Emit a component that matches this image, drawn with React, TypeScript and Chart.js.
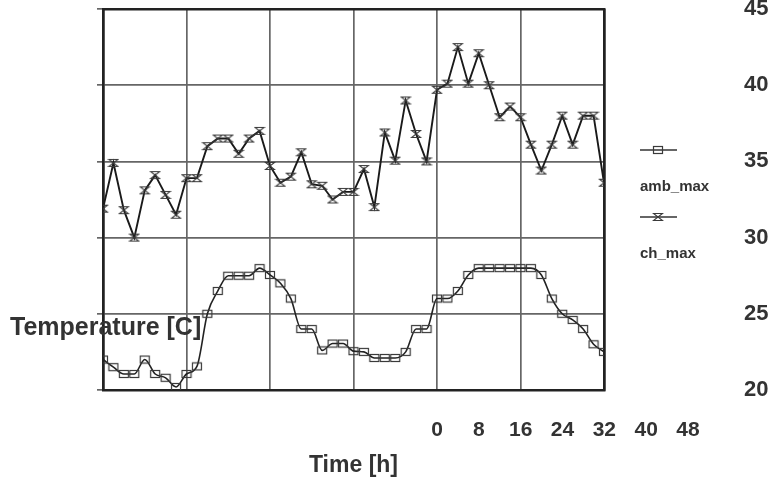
import React, { useEffect, useRef } from "react";
import { Chart, registerables } from "chart.js";

Chart.register(...registerables);

// ---- data ----
const hours = [0, 1, 2, 3, 4, 5, 6, 7, 8, 9, 10, 11, 12, 13, 14, 15, 16, 17, 18, 19, 20, 21, 22, 23, 24,
  25, 26, 27, 28, 29, 30, 31, 32, 33, 34, 35, 36, 37, 38, 39, 40, 41, 42, 43, 44, 45, 46, 47, 48];

const ambMax = [22.0, 21.5, 21.05, 21.05, 22.0, 21.05, 20.8, 20.2, 21.05, 21.55, 25.0, 26.5, 27.5, 27.5,
  27.5, 28.0, 27.55, 27.0, 26.0, 24.0, 24.0, 22.6, 23.05, 23.05, 22.55, 22.5, 22.1, 22.1, 22.1, 22.5,
  24.0, 24.0, 26.0, 26.0, 26.5, 27.55, 28.0, 28.0, 28.0, 28.0, 28.0, 28.0, 27.55, 26.0, 25.0, 24.6,
  24.0, 23.0, 22.5];

const chMax = [31.9, 34.9, 31.8, 30.0, 33.1, 34.1, 32.8, 31.5, 33.9, 33.9, 36.0, 36.5, 36.5, 35.5, 36.5,
  37.0, 34.7, 33.6, 34.0, 35.6, 33.5, 33.4, 32.5, 33.0, 33.0, 34.5, 32.0, 36.9, 35.05, 39.0, 36.8, 35.0,
  39.7, 40.1, 42.5, 40.1, 42.1, 40.0, 37.9, 38.6, 37.9, 36.1, 34.4, 36.1, 38.0, 36.1, 38.0, 38.0, 33.6];

const seriesNames = ["amb_max", "ch_max"];
const xTicks = [0, 8, 16, 24, 32, 40, 48];
const yTicks = [20, 25, 30, 35, 40, 45];
const yTitle = "Temperature [C]";
const xTitle = "Time [h]";

const FONT = "'Liberation Sans', Arial, Helvetica, sans-serif";
const TEXT = "#333";

function makeSquare(): HTMLCanvasElement {
  const c = document.createElement("canvas");
  c.width = 12;
  c.height = 10;
  const g = c.getContext("2d")!;
  g.strokeStyle = "#3a3a3a";
  g.lineWidth = 1.2;
  g.strokeRect(1.5, 1.5, 9, 7);
  return c;
}

function makeHourglass(): HTMLCanvasElement {
  const c = document.createElement("canvas");
  c.width = 12;
  c.height = 10;
  const g = c.getContext("2d")!;
  g.strokeStyle = "#3a3a3a";
  g.lineWidth = 1.1;
  g.beginPath();
  g.moveTo(1.5, 1.5);
  g.lineTo(10.5, 1.5);
  g.lineTo(1.5, 8.5);
  g.lineTo(10.5, 8.5);
  g.closePath();
  g.stroke();
  return c;
}

const setTicks = (arr: number[]) => (s: any) => {
  s.ticks = arr.map((v) => ({ value: v }));
};

const edgeColor = (edges: number[]) => (ctx: any) =>
  ctx.tick && edges.includes(ctx.tick.value) ? "#222" : "#666";
const edgeWidth = (edges: number[]) => (ctx: any) =>
  ctx.tick && edges.includes(ctx.tick.value) ? 2.5 : 1.7;

const x2Place = {
  id: "x2Place",
  afterLayout(chart: any) {
    const s = chart.scales.x2;
    if (!s) return;
    s.left = 437;
    s.right = 688;
    s.width = 251;
    s.top = 418;
    s.bottom = 448;
    s.height = 30;
    s.configure();
  },
};

const extras = {
  id: "extras",
  afterDraw(chart: any) {
    const ctx = chart.ctx;
    ctx.save();
    // horizontal y-axis title
    ctx.fillStyle = TEXT;
    ctx.font = `bold 25px ${FONT}`;
    ctx.textAlign = "left";
    ctx.textBaseline = "middle";
    ctx.fillText(yTitle, 10, 328);

    // legend: symbol above the name
    chart.data.datasets.forEach((ds: any, i: number) => {
      const symY = 150 + i * 67;
      ctx.strokeStyle = "#333";
      ctx.lineWidth = 1.5;
      ctx.beginPath();
      ctx.moveTo(640, symY);
      ctx.lineTo(677, symY);
      ctx.stroke();
      const img = ds.pointStyle as HTMLCanvasElement;
      ctx.drawImage(img, 658 - img.width / 2, symY - img.height / 2);
      ctx.fillStyle = TEXT;
      ctx.font = `bold 15px ${FONT}`;
      ctx.textAlign = "left";
      ctx.textBaseline = "middle";
      ctx.fillText(ds.label, 640, symY + 37);
    });
    ctx.restore();
  },
};

export default function App() {
  const ref = useRef<HTMLCanvasElement | null>(null);

  useEffect(() => {
    if (!ref.current) return;
    const square = makeSquare();
    const hourglass = makeHourglass();

    const chart = new Chart(ref.current, {
      type: "line",
      data: {
        datasets: [
          {
            label: seriesNames[0],
            data: hours.map((h, i) => ({ x: h, y: ambMax[i] })),
            borderColor: "#222",
            borderWidth: 1.6,
            cubicInterpolationMode: "monotone",
            tension: 0.4,
            pointStyle: square,
            pointRadius: 5,
            xAxisID: "x",
            yAxisID: "y",
          },
          {
            label: seriesNames[1],
            data: hours.map((h, i) => ({ x: h, y: chMax[i] })),
            borderColor: "#1a1a1a",
            borderWidth: 1.9,
            tension: 0,
            pointStyle: hourglass,
            pointRadius: 5,
            xAxisID: "x",
            yAxisID: "y",
          },
        ],
      },
      options: {
        responsive: false,
        animation: false,
        devicePixelRatio: 1,
        layout: { padding: { top: 9, left: 0, right: 0, bottom: 0 } },
        plugins: {
          legend: { display: false },
          tooltip: { enabled: false },
        },
        scales: {
          x: {
            type: "linear",
            position: "bottom",
            min: 0,
            max: 48,
            afterBuildTicks: setTicks(xTicks),
            ticks: { display: false },
            grid: {
              color: edgeColor([0, 48]),
              lineWidth: edgeWidth([0, 48]),
              drawTicks: false,
            },
            border: { display: true, color: "#222", width: 2.5 },
            title: {
              display: true,
              text: xTitle,
              color: TEXT,
              font: { family: FONT, size: 23, weight: "bold" },
              padding: { top: 0, bottom: 16 },
            },
            afterFit: (s: any) => {
              s.height = 105;
              s.paddingLeft = 0;
              s.paddingRight = 0;
            },
          },
          x2: {
            type: "linear",
            position: "bottom",
            min: 0,
            max: 48,
            afterBuildTicks: setTicks(xTicks),
            ticks: {
              color: TEXT,
              font: { family: FONT, size: 21, weight: "bold" },
              padding: 0,
              autoSkip: false,
              maxRotation: 0,
            },
            grid: { display: false, drawTicks: false },
            border: { display: false },
            afterFit: (s: any) => {
              s.height = 0;
              s.paddingLeft = 0;
              s.paddingRight = 0;
            },
          },
          y: {
            type: "linear",
            position: "right",
            min: 20,
            max: 45,
            afterBuildTicks: setTicks(yTicks),
            ticks: {
              color: TEXT,
              font: { family: FONT, size: 22, weight: "bold" },
              padding: 140,
            },
            grid: {
              color: edgeColor([45]),
              lineWidth: edgeWidth([45]),
              drawTicks: false,
            },
            border: { display: true, color: "#222", width: 2.5 },
            afterFit: (s: any) => {
              s.width = 175;
              s.paddingTop = 0;
              s.paddingBottom = 0;
            },
          },
          yL: {
            type: "linear",
            position: "left",
            min: 20,
            max: 45,
            afterBuildTicks: setTicks(yTicks),
            ticks: { display: false },
            grid: {
              drawOnChartArea: false,
              drawTicks: true,
              tickLength: 6,
              color: "#666",
              lineWidth: 1.7,
            },
            border: { display: true, color: "#222", width: 2.5 },
            afterFit: (s: any) => {
              s.width = 103;
              s.paddingTop = 0;
              s.paddingBottom = 0;
            },
          },
        },
      } as any,
      plugins: [x2Place, extras],
    });

    return () => chart.destroy();
  }, []);

  return (
    <div style={{ position: "absolute", left: 0, top: 0, width: 779, height: 495, background: "#fff" }}>
      <canvas ref={ref} width={779} height={495} style={{ display: "block" }} />
    </div>
  );
}
